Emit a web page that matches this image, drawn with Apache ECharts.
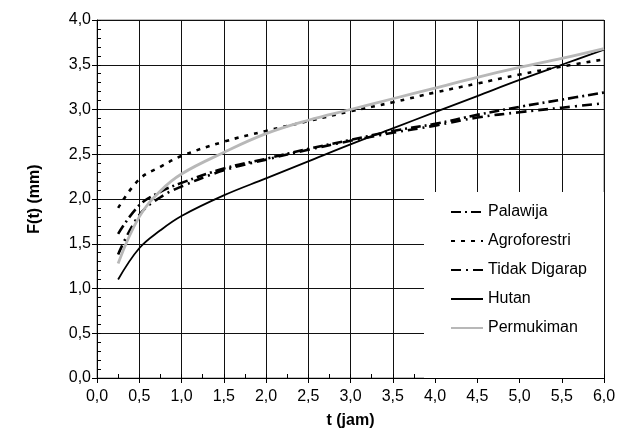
<!DOCTYPE html>
<html>
<head>
<meta charset="utf-8">
<script src="https://cdn.jsdelivr.net/npm/echarts@6/dist/echarts.min.js"></script>
<style>html,body{margin:0;padding:0;background:#fff}#c{width:638px;height:444px}</style>
</head>
<body>
<div id="c"></div>
<script>
const tValues = [0.25, 0.5, 0.75, 1.0, 1.5, 2.0, 2.5, 3.0, 3.5, 4.0, 4.5, 5.0, 5.5, 6.0];
const palawija = [1.61, 1.93, 2.08, 2.18, 2.34, 2.45, 2.56, 2.66, 2.76, 2.84, 2.94, 3.03, 3.11, 3.19];
const agroforestri = [1.90, 2.22, 2.36, 2.48, 2.64, 2.76, 2.87, 2.98, 3.08, 3.19, 3.29, 3.39, 3.48, 3.56];
const tidakDigarap = [1.38, 1.82, 2.02, 2.14, 2.32, 2.44, 2.55, 2.65, 2.74, 2.82, 2.91, 2.97, 3.02, 3.07];
const hutan = [1.10, 1.45, 1.65, 1.81, 2.04, 2.23, 2.42, 2.61, 2.79, 2.97, 3.15, 3.33, 3.50, 3.67];
const permukiman = [1.28, 1.80, 2.09, 2.28, 2.52, 2.73, 2.88, 3.00, 3.12, 3.24, 3.36, 3.47, 3.57, 3.68];
const seriesNames = ['Palawija', 'Agroforestri', 'Tidak Digarap', 'Hutan', 'Permukiman'];
const xTitle = 't (jam)';
const yTitle = 'F(t) (mm)';

const fmt = v => v.toFixed(1).replace('.', ',');
const pairs = arr => tValues.map((t, i) => [t, arr[i]]);
const font = 'Liberation Sans, Arial, sans-serif';
const FS = 16;

const G = {left: 97, right: 34, top: 20, bottom: 66};

const styles = [
  {color: '#000', width: 2.6, type: [10, 4, 2, 4]},
  {color: '#000', width: 2.6, type: [4, 6]},
  {color: '#000', width: 2.6, type: [10, 5, 2, 5]},
  {color: '#000', width: 1.8, type: 'solid'},
  {color: '#b8b8b8', width: 2.8, type: 'solid'}
];
const datas = [palawija, agroforestri, tidakDigarap, hutan, permukiman];

const chart = echarts.init(document.getElementById('c'), null, {renderer: 'canvas'});
chart.setOption({
  animation: false,
  backgroundColor: '#fff',
  grid: {left: G.left, right: G.right, top: G.top, bottom: G.bottom, show: true, borderColor: '#808080', borderWidth: 1},
  xAxis: [
    {type: 'value', min: 0, max: 6, interval: 0.5,
     name: xTitle, nameLocation: 'middle', nameGap: 35,
     nameTextStyle: {fontFamily: font, fontSize: FS, fontWeight: 'bold', color: '#000'},
     axisLine: {lineStyle: {color: '#000', width: 1}},
     axisTick: {show: true, inside: false, length: 5, lineStyle: {color: '#000'}},
     axisLabel: {formatter: fmt, fontFamily: font, fontSize: FS, color: '#000', margin: 11},
     splitLine: {show: true, lineStyle: {color: '#111', width: 1}}},
    {type: 'value', min: 0, max: 6, interval: 0.25, position: 'bottom',
     axisLine: {show: false}, axisLabel: {show: false}, splitLine: {show: false},
     axisTick: {show: true, inside: true, length: 4, lineStyle: {color: '#000'}}}
  ],
  yAxis: [
    {type: 'value', min: 0, max: 4, interval: 0.5,
     name: yTitle, nameLocation: 'middle', nameGap: 54, nameRotate: 90,
     nameTextStyle: {fontFamily: font, fontSize: FS, fontWeight: 'bold', color: '#000'},
     axisLine: {show: true, lineStyle: {color: '#000', width: 1}},
     axisTick: {show: true, inside: false, length: 5, lineStyle: {color: '#000'}},
     axisLabel: {formatter: fmt, fontFamily: font, fontSize: FS, color: '#000', margin: 6},
     splitLine: {show: true, lineStyle: {color: '#111', width: 1}}},
    {type: 'value', min: 0, max: 4, interval: 0.1, position: 'left',
     axisLine: {show: false}, axisLabel: {show: false}, splitLine: {show: false},
     axisTick: {show: true, inside: true, length: 4, lineStyle: {color: '#000'}}}
  ],
  graphic: [
    {type: 'rect', shape: {x: 424, y: 192, width: 180, height: 186}, style: {fill: '#fff', stroke: null}, z: 50}
  ],
  legend: {
    orient: 'vertical', left: 445, top: 199, itemGap: 13, itemWidth: 32, itemHeight: 18, z: 60,
    itemStyle: {color: 'rgba(0,0,0,0)', borderColor: 'rgba(0,0,0,0)', borderWidth: 0, opacity: 0},
    textStyle: {fontFamily: font, fontSize: FS, color: '#000'},
    data: seriesNames
  },
  series: seriesNames.map((n, i) => ({
    name: n, type: 'line', data: pairs(datas[i]), smooth: 0.4, symbol: 'none',
    xAxisIndex: 0, yAxisIndex: 0,
    lineStyle: styles[i], itemStyle: {color: styles[i].color}, z: 10
  }))
});
</script>
</body>
</html>
